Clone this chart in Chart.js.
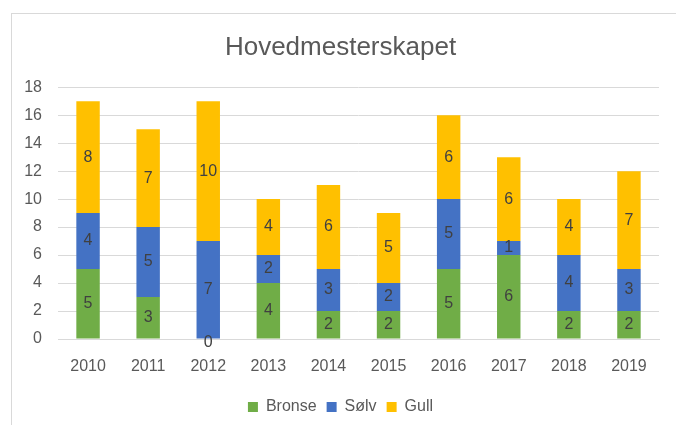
<!DOCTYPE html>
<html>
<head>
<meta charset="utf-8">
<style>
  html, body { margin: 0; padding: 0; background: #fff; }
  .wrap { position: relative; width: 676px; height: 425px; overflow: hidden; }
  .frame { position: absolute; left: 11px; top: 13px; width: 700px; height: 450px;
           border-left: 1px solid #d9d9d9; border-top: 1px solid #d9d9d9; }
  canvas { position: absolute; left: 0; top: 0; }
</style>
</head>
<body>
<div class="wrap">
  <div class="frame"></div>
  <canvas id="medalChart" width="676" height="425"></canvas>
</div>
<script src="https://cdn.jsdelivr.net/npm/chart.js"></script>
<script>
  const years = ["2010", "2011", "2012", "2013", "2014", "2015", "2016", "2017", "2018", "2019"];
  const bronse = [5, 3, 0, 4, 2, 2, 5, 6, 2, 2];
  const solv = [4, 5, 7, 2, 3, 2, 5, 1, 4, 3];
  const gull = [8, 7, 10, 4, 6, 5, 6, 6, 4, 7];

  const font = "'Liberation Sans', Arial, sans-serif";

  // draws the value in the middle of every bar segment
  const barLabels = {
    id: "barLabels",
    afterDatasetsDraw(chart) {
      const ctx = chart.ctx;
      ctx.save();
      ctx.font = "16px " + font;
      ctx.fillStyle = "#404040";
      ctx.textAlign = "center";
      ctx.textBaseline = "middle";
      chart.data.datasets.forEach((ds, i) => {
        chart.getDatasetMeta(i).data.forEach((bar, j) => {
          const mid = (bar.y + bar.base) / 2;
          ctx.fillText(ds.data[j], bar.x, ds.data[j] === 0 ? mid + 4 : mid);
        });
      });
      ctx.restore();
    },
  };

  new Chart(document.getElementById("medalChart"), {
    type: "bar",
    data: {
      labels: years,
      datasets: [
        { label: "Bronse", data: bronse, backgroundColor: "#70ad47" },
        { label: "Sølv", data: solv, backgroundColor: "#4472c4" },
        { label: "Gull", data: gull, backgroundColor: "#ffc000" },
      ],
    },
    options: {
      responsive: false,
      animation: false,
      layout: { padding: { left: 22, right: 17, top: 32, bottom: 0 } },
      datasets: { bar: { categoryPercentage: 1, barPercentage: 0.39 } },
      scales: {
        x: {
          stacked: true,
          grid: { display: false, drawTicks: false },
          border: { color: "#d9d9d9" },
          ticks: { color: "#595959", font: { family: font, size: 16 }, padding: 18 },
          afterFit(scale) { scale.height = 50; },
        },
        y: {
          stacked: true,
          min: 0,
          max: 18,
          ticks: { stepSize: 2, color: "#595959", font: { family: font, size: 16 }, padding: 16 },
          grid: { color: "#d9d9d9", drawTicks: false },
          border: { display: false },
          afterFit(scale) { scale.width = 36; },
        },
      },
      plugins: {
        title: {
          display: true,
          text: "Hovedmesterskapet",
          color: "#595959",
          font: { family: font, size: 26, weight: "normal" },
          padding: { top: 0, bottom: 24 },
        },
        legend: {
          position: "bottom",
          labels: {
            color: "#595959",
            font: { family: font, size: 16 },
            boxWidth: 10,
            boxHeight: 10,
            padding: 10,
          },
        },
        tooltip: { enabled: false },
      },
    },
    plugins: [barLabels],
  });
</script>
</body>
</html>
